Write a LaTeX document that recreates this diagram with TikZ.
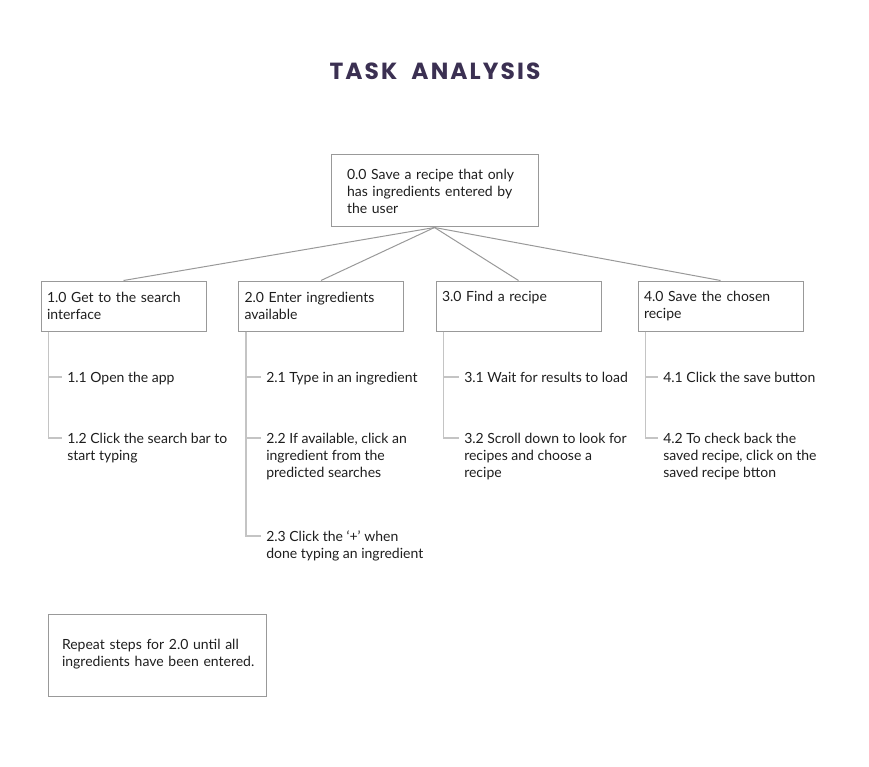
\documentclass[tikz,border=0pt]{standalone}
\usepackage{fontspec}
\setmainfont{Lato}
\newfontfamily\titlefont{Poppins}[LetterSpace=9]
\usepackage{tikz}
\usetikzlibrary{positioning}

\definecolor{titlepurple}{HTML}{3B3052}
\definecolor{boxgray}{HTML}{999999}
\definecolor{stemgray}{HTML}{C4C4C4}
\definecolor{textblack}{HTML}{1E1E1E}

% lines of a subtask, first baseline on top
\newcommand{\steplines}[2][t]{\begin{tabular}[#1]{@{}l@{}}#2\end{tabular}}

\begin{document}
\begin{tikzpicture}[
    x=0.75pt, y=-0.75pt,
    every node/.style={font=\fontsize{10.5}{12.75}\selectfont, text=textblack},
    task/.style={draw=boxgray, line width=0.75pt, rectangle, minimum width=123.75pt, minimum height=37.5pt, inner xsep=4.5pt, inner ysep=0pt, text width=114.75pt, align=left},
    subtask/.style={anchor=base west, inner sep=0pt},
    link/.style={draw=boxgray, line width=0.75pt},
    stem/.style={draw=stemgray, line width=1.2pt}
]
\useasboundingbox (0,0) rectangle (869,767);

\node[font=\titlefont\bfseries\fontsize{17.5}{20}\selectfont, text=titlepurple] (title) at (435,71) {TASK\ \ ANALYSIS};

% goal
\node[task, minimum width=155.25pt, minimum height=54pt, inner xsep=12pt, text width=131.25pt] (goal) at (434.5,191)
    {0.0 Save a recipe that only\\has ingredients entered by\\the user};

% main tasks
\node[task] (t1) at (123.5,306) {1.0 Get to the search\\interface};
\node[task] (t2) at (321,306) {2.0 Enter ingredients\\available};
\node[task] (t3) at (518.5,306) {3.0 Find a recipe\\\phantom{p}};
\node[task] (t4) at (720.5,306) {4.0 Save the chosen\\recipe};

\foreach \t in {t1,t2,t3,t4}
    \draw[link] (goal.south) -- (\t.north);

% subtasks
\node[subtask] (s11) at (67,382) {\steplines{1.1 Open the app}};
\node[subtask] (s12) at (67,443) {\steplines{1.2 Click the search bar to\\start typing}};
\node[subtask] (s21) at (266,382) {\steplines{2.1 Type in an ingredient}};
\node[subtask] (s22) at (266,443) {\steplines{2.2 If available, click an\\ingredient from the\\predicted searches}};
\node[subtask] (s23) at (266,541) {\steplines{2.3 Click the `+' when\\done typing an ingredient}};
\node[subtask] (s31) at (464,382) {\steplines{3.1 Wait for results to load}};
\node[subtask] (s32) at (464,443) {\steplines{3.2 Scroll down to look for\\recipes and choose a\\recipe}};
\node[subtask] (s41) at (663,382) {\steplines{4.1 Click the save button}};
\node[subtask] (s42) at (663,443) {\steplines{4.2 To check back the\\saved recipe, click on the\\saved recipe btton}};

\foreach \p/\s in {t1/s11,t1/s12,t2/s21,t2/s22,t2/s23,t3/s31,t3/s32,t4/s41,t4/s42}
    \draw[stem] ([xshift=6pt]\p.south west) |- ([shift={(-5,-5)}]\s.base west);

% note
\node[task, minimum width=163.5pt, minimum height=61.5pt, inner xsep=10.5pt, text width=142.5pt] (note) at (157,655)
    {\raisebox{-2.25pt}{\steplines[c]{Repeat steps for 2.0 until all\\ingredients have been entered.}}};
\end{tikzpicture}
\end{document}
